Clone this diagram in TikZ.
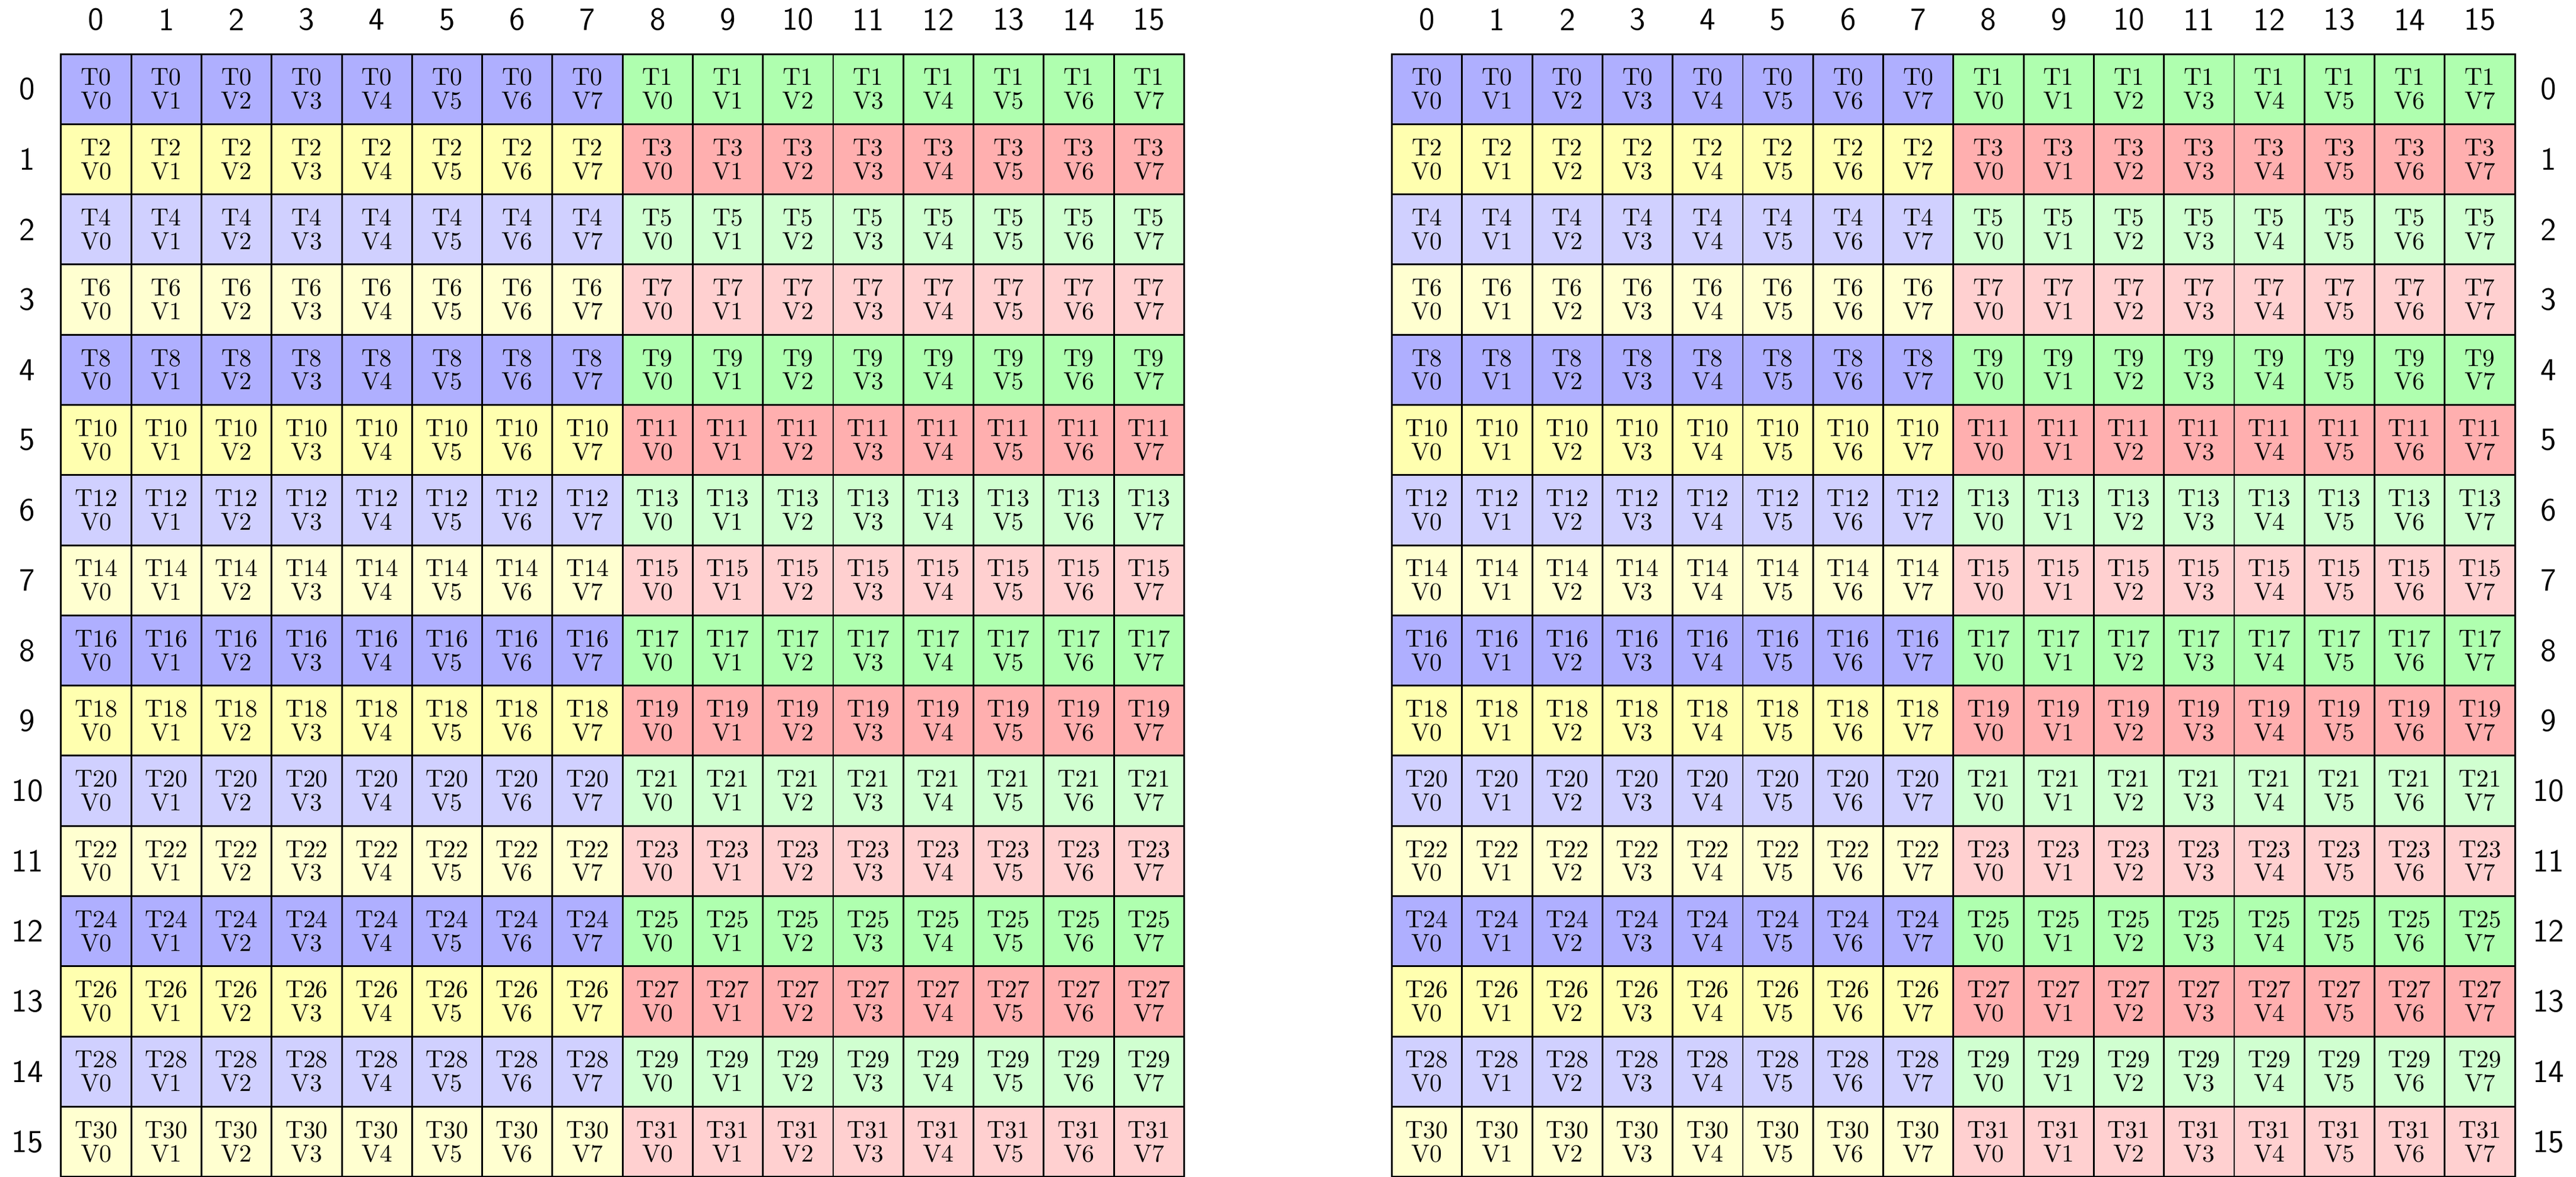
\documentclass[tikz,border=0pt]{standalone}

\definecolor{grp00}{RGB}{175,175,255}
\definecolor{grp01}{RGB}{175,255,175}
\definecolor{grp10}{RGB}{255,255,175}
\definecolor{grp11}{RGB}{255,175,175}
\definecolor{grp20}{RGB}{208,208,255}
\definecolor{grp21}{RGB}{208,255,208}
\definecolor{grp30}{RGB}{255,255,208}
\definecolor{grp31}{RGB}{255,208,208}

\begin{document}
\begin{tikzpicture}[x=1cm,y=1cm,
        cell/.style={draw=black, line width=0.7pt, minimum size=1cm, inner sep=0pt,
            align=center, font=\fontsize{10}{9.6}\selectfont},
        idx/.style={inner sep=0pt, font=\fontsize{13}{15}\sffamily\selectfont}]
    \useasboundingbox (-0.87,-16.0) rectangle (35.83,0.77);
    \foreach \g/\dx in {L/0, R/18.96} {
        \foreach \r in {0,...,15} {
            \foreach \c in {0,...,15} {
                \pgfmathtruncatemacro{\m}{mod(\r,4)}
                \pgfmathtruncatemacro{\h}{\c>7}
                \pgfmathtruncatemacro{\t}{2*\r+\h}
                \pgfmathtruncatemacro{\v}{mod(\c,8)}
                \node [cell, fill=grp\m\h] (\g-\r-\c) at (\dx+\c+0.5,-\r-0.5) {T\t\\V\v};
            }
        }
        \foreach \c in {0,...,15}
            \node [idx] (\g-col-\c) at (\dx+\c+0.5,0.49) {\c};
    }
    \foreach \r in {0,...,15} {
        \node [idx] (L-row-\r) at (-0.48,-\r-0.5) {\r};
        \node [idx] (R-row-\r) at (35.44,-\r-0.5) {\r};
    }
\end{tikzpicture}
\end{document}
